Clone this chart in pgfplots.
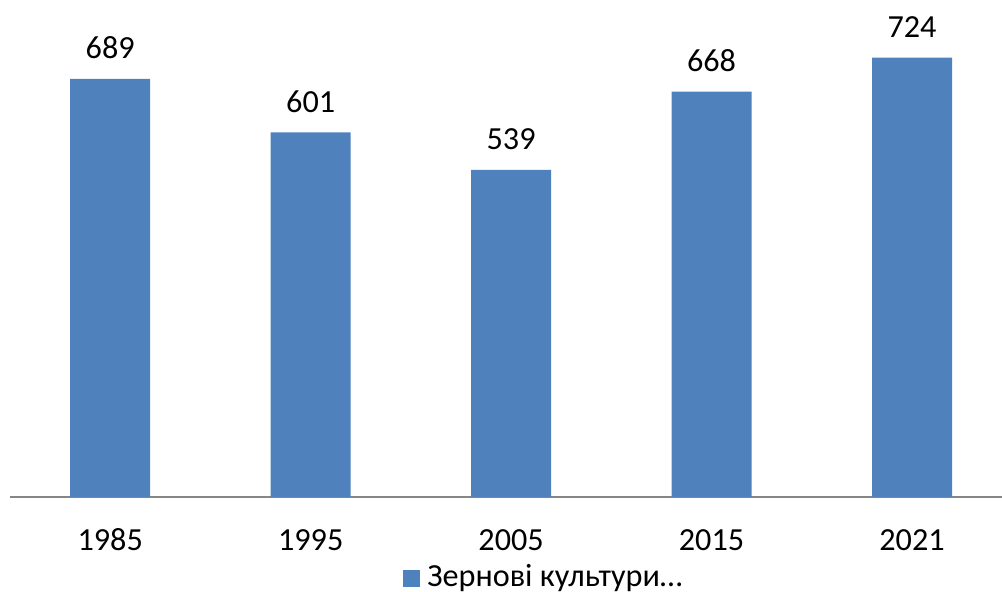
\documentclass[border=0pt]{standalone}
\usepackage{pgfplots}
\pgfplotsset{compat=1.18}
\usepackage{fontspec}
\setmainfont{Carlito}
\definecolor{barblue}{HTML}{4F81BD}
\definecolor{axgray}{HTML}{868686}
\begin{document}
\fontsize{16.1bp}{19bp}\selectfont
\begin{tikzpicture}
\begin{axis}[name=ax, at={(0,0)}, anchor=south west,
 scale only axis, width=496bp, height=248.5bp,
 ybar, bar width=40bp,
 xmin=-0.5, xmax=4.449, ymin=0, ymax=819,
 axis y line=none, axis x line*=bottom,
 x axis line style={axgray, line width=1bp, -},
 xtick=data, xticklabels={1985,1995,2005,2015,2021},
 major tick length=0pt,
 xticklabel style={anchor=base, yshift=-26.7bp, font=\fontsize{16.1bp}{19bp}\selectfont},
 nodes near coords,
 nodes near coords style={anchor=base, yshift=10bp, black, font=\fontsize{16.1bp}{19bp}\selectfont, /pgf/number format/assume math mode=true},
 legend style={at={(axis description cs:0.3962,-0.163)}, anchor=west, draw=none, fill=none, inner sep=0pt,
   font=\fontsize{16.1bp}{19bp}\selectfont, /tikz/every odd column/.append style={column sep=1.5bp}},
 legend image code/.code={\fill[barblue] (0bp,-4.25bp) rectangle (8.5bp,4.25bp);},
]
\addplot[fill=barblue, draw=none] coordinates {(0,689) (1,601) (2,539) (3,668) (4,724)};
\legend{Зернові культури…}
\end{axis}
\pgfresetboundingbox
\path[use as bounding box] (-5bp,-47.5bp) rectangle (496bp,248.5bp);
\end{tikzpicture}
\end{document}
